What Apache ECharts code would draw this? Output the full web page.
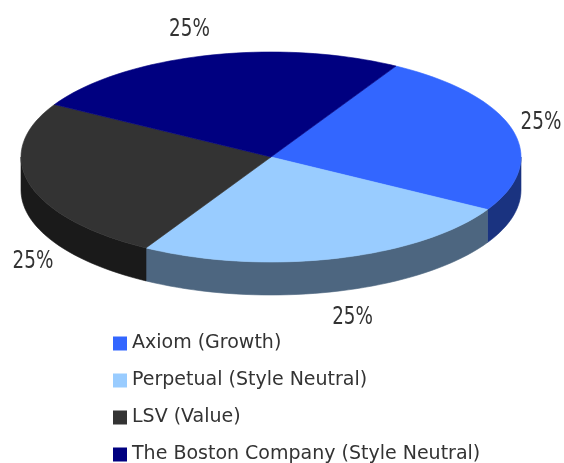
<!DOCTYPE html>
<html>
<head>
<meta charset="utf-8">
<script src="https://cdn.jsdelivr.net/npm/echarts@6/dist/echarts.min.js"></script>
<style>
html, body {margin: 0; padding: 0; background: #ffffff;}
#echarts-fund-pie {width: 564px; height: 463px;}
</style>
</head>
<body>
<div id="echarts-fund-pie"></div>
<script>
//----------------------Data----------------------
let fund_names = ['Axiom (Growth)', 'Perpetual (Style Neutral)', 'LSV (Value)', 'The Boston Company (Style Neutral)'];
let fund_values = [25, 25, 25, 25];
let fund_colors = ['#3366ff', '#99ccff', '#333333', '#000080'];
let fund_side_colors = ['#1a3380', '#4d6680', '#1a1a1a', '#000040'];
//--------------------Location--------------------
let pie_cx = 271;
let pie_cy = 157;
let pie_rx = 250;
let pie_ry = 105;
let pie_depth = 33;
let pie_start = 60;          // degrees, counter-clockwise from 3 o'clock
let label_rx = 315;
let label_ry = 132;
let label_half_w = 20;
let label_half_h = 10;
// Get dom in html
let fund_pie_dom = document.getElementById("echarts-fund-pie");
let fund_pie_chart = echarts.init(fund_pie_dom);

let fund_total = fund_values.reduce((a, b) => a + b, 0);

function ellipse_point(deg, dy) {
    let r = deg * Math.PI / 180;
    return [pie_cx + pie_rx * Math.cos(r), pie_cy - pie_ry * Math.sin(r) + dy];
}
function arc_points(from, to, dy) {
    let pts = [];
    let n = Math.max(2, Math.ceil(Math.abs(to - from) / 2));
    for (let i = 0; i <= n; i++) {
        pts.push(ellipse_point(from + (to - from) * i / n, dy));
    }
    return pts;
}
function label_position(mid) {
    let r = mid * Math.PI / 180;
    let s = Math.sin(r);
    let x = pie_cx + label_rx * Math.cos(r);
    let y = pie_cy - label_ry * s + (s < 0 ? pie_depth : 0);
    x = Math.min(564 - label_half_w - 3, Math.max(label_half_w + 13, x));
    // keep the label off the pie body
    let edge = x + (x < pie_cx ? label_half_w : -label_half_w);
    let t = Math.min(1, Math.abs(edge - pie_cx) / pie_rx);
    let h = pie_ry * Math.sqrt(1 - t * t);
    if (s < 0) {
        y = Math.max(y, pie_cy + h + pie_depth + label_half_h + 10);
    } else {
        y = Math.min(y, pie_cy - h - label_half_h - 10);
    }
    return [x, y];
}
//---------------------Series---------------------
let fund_series_list = [];
let running = 0;
for (let key in fund_values) {
    let i = Number(key);
    let a1 = pie_start - running / fund_total * 360;
    running += fund_values[i];
    let a2 = pie_start - running / fund_total * 360;
    fund_series_list.push({
        type: 'custom',
        name: fund_names[i],
        coordinateSystem: 'none',
        silent: true,
        itemStyle: {color: fund_colors[i]},
        data: [[a1, a2, fund_values[i]]],
        renderItem: function (params, api) {
            let from = api.value(0);
            let to = api.value(1);
            let children = [];
            // front wall, only where the rim faces the viewer
            for (let k = -1; k <= 1; k++) {
                let lo = Math.max(to, -180 + 360 * k);
                let hi = Math.min(from, 360 * k);
                if (lo < hi) {
                    let pts = arc_points(hi, lo, 0).concat(arc_points(lo, hi, pie_depth));
                    children.push({
                        type: 'polygon',
                        shape: {points: pts},
                        style: {fill: fund_side_colors[i], stroke: fund_side_colors[i], lineWidth: 0.6}
                    });
                }
            }
            // top face
            let top = [[pie_cx, pie_cy]].concat(arc_points(from, to, 0));
            children.push({
                type: 'polygon',
                shape: {points: top},
                style: {fill: fund_colors[i], stroke: fund_colors[i], lineWidth: 0.6}
            });
            let pos = label_position((from + to) / 2);
            children.push({
                type: 'text',
                x: pos[0],
                y: pos[1],
                scaleX: 0.85,
                style: {
                    text: Math.round(api.value(2) / fund_total * 100) + '%',
                    x: 0,
                    y: 0,
                    align: 'center',
                    verticalAlign: 'middle',
                    fontSize: 24,
                    fontFamily: '"Liberation Sans Narrow", "DejaVu Sans Condensed", sans-serif',
                    fill: '#333333'
                }
            });
            return {type: 'group', children: children};
        }
    });
}
//------------------Generate Graph------------------
let fund_pie_option = {
    backgroundColor: '#ffffff',
    animation: false,
    tooltip: {show: false},
    legend: {
        orient: 'vertical',
        left: 113,
        top: 334,
        height: 200,
        padding: 0,
        icon: 'rect',
        itemWidth: 14,
        itemHeight: 14,
        itemGap: 18,
        selectedMode: false,
        data: fund_names,
        textStyle: {fontFamily: 'DejaVu Sans', fontSize: 19, color: '#333333'}
    },
    series: fund_series_list
};
if (fund_pie_option && typeof fund_pie_option === "object") {
    fund_pie_chart.setOption(fund_pie_option, true);
}
</script>
</body>
</html>
